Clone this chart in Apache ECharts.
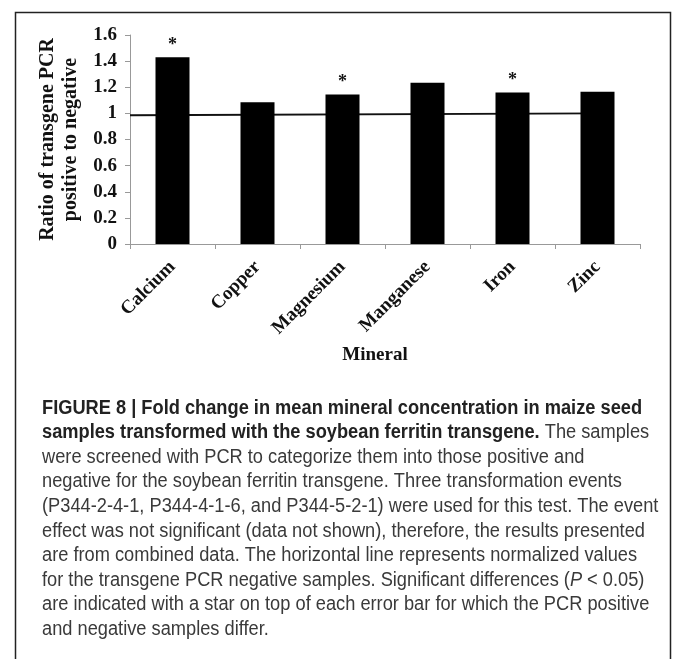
<!DOCTYPE html>
<html>
<head>
<meta charset="utf-8">
<script src="https://cdn.jsdelivr.net/npm/echarts@6/dist/echarts.min.js"></script>
<style>
  html, body { margin: 0; padding: 0; background: #fff; }
  #chart { width: 673px; height: 659px; }
</style>
</head>
<body>
<div id="chart"></div>
<script>
// minerals and fold change (PCR positive / negative)
var minerals = ['Calcium', 'Copper', 'Magnesium', 'Manganese', 'Iron', 'Zinc'];
var ratios = [1.43, 1.085, 1.145, 1.235, 1.16, 1.165];
var significant = [true, false, true, false, true, false];

// normalised negative-sample line (x in category units)
var refLineX = [0, 5.5];
var refLineY = [0.985, 1.0];

var captionLines = [
    '{b|FIGURE 8 | Fold change in mean mineral concentration in maize seed}',
    '{b|samples transformed with the soybean ferritin transgene.} The samples',
    'were screened with PCR to categorize them into those positive and',
    'negative for the soybean ferritin transgene. Three transformation events',
    '(P344-2-4-1, P344-4-1-6, and P344-5-2-1) were used for this test. The event',
    'effect was not significant (data not shown), therefore, the results presented',
    'are from combined data. The horizontal line represents normalized values',
    'for the transgene PCR negative samples. Significant differences ({i|P} < 0.05)',
    'are indicated with a star on top of each error bar for which the PCR positive',
    'and negative samples differ.'
];

(function () {
    var myChart = echarts.init(document.getElementById('chart'));
    var serif = 'Liberation Serif';
    var capFont = '"Liberation Sans", sans-serif';

    var refData = [];
    for (var i = 0; i < refLineX.length; i++) {
        refData.push([refLineX[i], refLineY[i]]);
    }

    // caption, one text per line, squeezed to look like the condensed journal font
    var caption = [];
    for (var j = 0; j < captionLines.length; j++) {
        caption.push({
            type: 'text',
            x: 42,
            y: 398 + j * 24.6,
            scaleX: 0.912,
            style: {
                text: captionLines[j],
                font: '20px ' + capFont,
                fill: '#3a3a3a',
                verticalAlign: 'top',
                rich: {
                    b: { fontFamily: capFont, fontSize: 20, fontWeight: 'bold', fill: '#222' },
                    i: { fontFamily: capFont, fontSize: 20, fontStyle: 'italic', fill: '#3a3a3a' }
                }
            }
        });
    }

    var option = {
        backgroundColor: '#fff',
        animation: false,
        grid: { left: 130, right: 33, top: 35, bottom: 415 },
        xAxis: [{
            type: 'category',
            data: minerals,
            name: 'Mineral',
            nameLocation: 'middle',
            nameGap: 102,
            nameTextStyle: { fontFamily: serif, fontWeight: 'bold', fontSize: 19, color: '#111', padding: [0, 20, 0, 0] },
            axisLine: { lineStyle: { color: '#999', width: 1 } },
            axisTick: { show: true, length: 5, lineStyle: { color: '#999' } },
            axisLabel: {
                rotate: 45,
                margin: 20,
                fontFamily: serif,
                fontWeight: 'bold',
                fontSize: 19,
                color: '#111'
            }
        }, {
            type: 'value',
            min: 0,
            max: 6,
            show: false
        }],
        yAxis: {
            type: 'value',
            min: 0,
            max: 1.6,
            interval: 0.2,
            name: 'Ratio of transgene PCR\npositive to negative',
            nameLocation: 'middle',
            nameGap: 48,
            nameTextStyle: { fontFamily: serif, fontWeight: 'bold', fontSize: 20, color: '#111', lineHeight: 23 },
            axisLine: { show: true, lineStyle: { color: '#999', width: 1 } },
            axisTick: { show: true, length: 5, lineStyle: { color: '#999' } },
            splitLine: { show: false },
            axisLabel: {
                margin: 13,
                fontFamily: serif,
                fontWeight: 'bold',
                fontSize: 19,
                color: '#111'
            }
        },
        series: [{
            type: 'bar',
            data: ratios,
            barWidth: '40%',
            z: 3,
            itemStyle: { color: '#000' },
            label: {
                show: true,
                position: 'top',
                distance: 3,
                fontFamily: serif,
                fontWeight: 'bold',
                fontSize: 18,
                color: '#111',
                formatter: function (p) {
                    return significant[p.dataIndex] ? '*' : '';
                }
            }
        }, {
            type: 'line',
            xAxisIndex: 1,
            data: refData,
            z: 2,
            symbol: 'none',
            lineStyle: { color: '#111', width: 2 }
        }],
        graphic: [{
            type: 'rect',
            left: 13,
            top: 10,
            shape: { width: 655, height: 700 },
            style: { fill: 'none', stroke: '#222', lineWidth: 1.5 }
        }].concat(caption)
    };

    myChart.setOption(option);
    window.addEventListener('resize', function () {
        myChart.resize();
    });
})();
</script>
</body>
</html>
